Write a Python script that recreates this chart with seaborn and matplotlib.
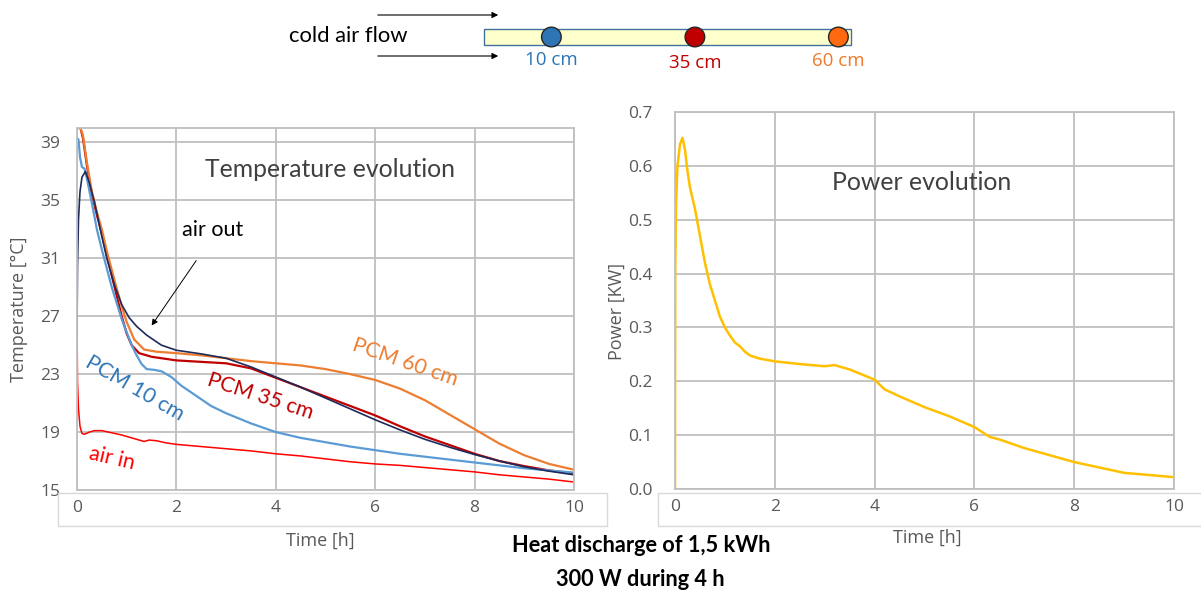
import matplotlib
matplotlib.use("Agg")
import matplotlib.pyplot as plt
import matplotlib.patches as patches
import seaborn as sns

# ---- data ----
t_pcm60 = [0, 0.07, 0.12, 0.2, 0.3, 0.4, 0.5, 0.6, 0.7, 0.8, 0.9, 1.0, 1.15, 1.35, 1.6, 2.0,
           2.5, 3.0, 3.5, 4.0, 4.5, 5.0, 5.5, 6.0, 6.5, 7.0, 7.5, 8.0, 8.5, 9.0, 9.5, 10.0]
T_pcm60 = [40.0, 40.0, 39.5, 37.6, 35.6, 34.2, 33.0, 31.5, 30.2, 28.9, 27.7, 26.6, 25.4, 24.7, 24.55, 24.45,
           24.3, 24.1, 23.9, 23.75, 23.6, 23.35, 23.0, 22.6, 22.0, 21.2, 20.2, 19.2, 18.2, 17.4, 16.8, 16.4]

t_pcm35 = [0, 0.07, 0.12, 0.2, 0.3, 0.4, 0.5, 0.6, 0.7, 0.8, 0.9, 1.0, 1.1, 1.25, 1.5, 2.0,
           2.5, 3.0, 3.5, 4.0, 4.5, 5.0, 5.5, 6.0, 6.5, 7.0, 7.5, 8.0, 8.5, 9.0, 9.5, 10.0]
T_pcm35 = [40.0, 40.0, 39.3, 37.4, 35.4, 34.0, 32.7, 31.2, 29.8, 28.4, 27.0, 25.8, 25.0, 24.45, 24.2, 23.95,
           23.85, 23.75, 23.4, 22.75, 22.1, 21.45, 20.8, 20.15, 19.4, 18.7, 18.1, 17.5, 17.0, 16.65, 16.35, 16.15]

t_out = [0, 0.01, 0.03, 0.06, 0.1, 0.17, 0.25, 0.35, 0.5, 0.6, 0.75, 0.9, 1.05, 1.2, 1.4, 1.7, 2.0,
         2.5, 3.0, 3.5, 4.0, 4.5, 5.0, 5.5, 6.0, 6.5, 7.0, 7.5, 8.0, 8.5, 9.0, 9.5, 10.0]
T_out = [25.7, 30.5, 33.7, 35.6, 36.6, 37.0, 36.2, 34.9, 32.5, 31.0, 29.2, 27.8, 26.9, 26.3, 25.7, 25.0, 24.65,
         24.4, 24.1, 23.5, 22.8, 22.1, 21.35, 20.6, 19.85, 19.15, 18.5, 17.95, 17.45, 17.0, 16.6, 16.3, 16.05]

t_pcm10 = [0, 0.03, 0.06, 0.1, 0.15, 0.2, 0.3, 0.4, 0.5, 0.6, 0.7, 0.8, 0.9, 1.0, 1.1, 1.2, 1.3, 1.4,
           1.55, 1.7, 1.9, 2.1, 2.4, 2.7, 3.0, 3.5, 4.0, 4.5, 5.0, 5.5, 6.0, 6.5, 7.0, 7.5, 8.0, 8.5,
           9.0, 9.5, 10.0]
T_pcm10 = [39.3, 39.2, 38.0, 37.3, 37.2, 36.5, 34.8, 33.0, 31.6, 30.3, 29.0, 27.9, 26.8, 25.9, 25.0, 24.3, 23.7, 23.35,
           23.3, 23.2, 22.8, 22.2, 21.5, 20.8, 20.3, 19.6, 19.0, 18.6, 18.3, 18.0, 17.75, 17.5, 17.3, 17.1, 16.9, 16.7,
           16.5, 16.35, 16.2]

t_in = [0, 0.01, 0.03, 0.06, 0.1, 0.15, 0.25, 0.35, 0.5, 0.7, 0.9, 1.1, 1.25, 1.35, 1.45, 1.6, 1.8, 2.0,
        2.5, 3.0, 3.5, 4.0, 4.5, 5.0, 5.5, 6.0, 6.5, 7.0, 7.5, 8.0, 8.5, 9.0, 9.5, 10.0]
T_in = [26.8, 22.5, 20.6, 19.4, 18.9, 18.85, 19.0, 19.1, 19.1, 18.95, 18.8, 18.6, 18.45, 18.35, 18.45, 18.4, 18.25, 18.15,
        18.0, 17.85, 17.7, 17.5, 17.35, 17.15, 16.95, 16.8, 16.7, 16.55, 16.4, 16.25, 16.05, 15.9, 15.75, 15.55]

t_power = [0, 0.005, 0.02, 0.05, 0.1, 0.15, 0.2, 0.25, 0.3, 0.4, 0.5, 0.6, 0.7, 0.8, 0.9, 1.0, 1.1, 1.2,
           1.3, 1.4, 1.5, 1.7, 2.0, 2.5, 3.0, 3.2, 3.5, 4.0, 4.2, 4.5, 5.0, 5.5, 6.0, 6.3, 6.5, 7.0,
           7.5, 8.0, 8.5, 9.0, 9.5, 10.0]
P_power = [0.0, 0.4, 0.53, 0.6, 0.64, 0.652, 0.63, 0.59, 0.56, 0.52, 0.47, 0.42, 0.38, 0.35, 0.32, 0.30, 0.285, 0.272,
           0.265, 0.255, 0.248, 0.242, 0.237, 0.232, 0.228, 0.23, 0.222, 0.203, 0.185, 0.172, 0.152, 0.135, 0.115, 0.097, 0.092, 0.076,
           0.063, 0.05, 0.04, 0.03, 0.026, 0.022]

sensor_cm = [10, 35, 60]
sensor_labels = ["10 cm", "35 cm", "60 cm"]
sensor_colors = ["#2E75B6", "#C00000", "#FF6A10"]
sensor_text_colors = ["#2E75B6", "#C00000", "#F07A2A"]

x_ticks = [0, 2, 4, 6, 8, 10]
temp_ticks = [15, 19, 23, 27, 31, 35, 39]
power_ticks = [0.0, 0.1, 0.2, 0.3, 0.4, 0.5, 0.6, 0.7]

# ---- style ----
sns.set_style("whitegrid")
plt.rcParams["font.family"] = ["Open Sans", "DejaVu Sans"]
GRID = "#BFBFBF"
TXT = "#595959"
LBL = "Lato"

fig = plt.figure(figsize=(12.01, 5.91), dpi=100)
ax1 = fig.add_axes([77 / 1201, 101 / 591, 497 / 1201, 362 / 591])
ax2 = fig.add_axes([675 / 1201, 102 / 591, 499 / 1201, 377 / 591])

series = [
    (t_pcm35, T_pcm35, "#C00000", 1.6),
    (t_pcm10, T_pcm10, "#5B9BD5", 1.6),
    (t_pcm60, T_pcm60, "#ED7D31", 1.6),
    (t_in, T_in, "#FF0000", 1.1),
    (t_out, T_out, "#1F2A5C", 1.2),
]
for tt, vv, col, lw in series:
    sns.lineplot(x=tt, y=vv, ax=ax1, color=col, linewidth=lw, sort=False)

sns.lineplot(x=t_power, y=P_power, ax=ax2, color="#FFC000", linewidth=1.8, sort=False)

for ax in (ax1, ax2):
    ax.set_xlim(0, 10)
    ax.set_xticks(x_ticks)
    ax.grid(True, color=GRID, linewidth=1.3)
    for sp in ax.spines.values():
        sp.set_color(GRID)
        sp.set_linewidth(1.3)
    ax.tick_params(axis="both", length=0, labelsize=12.5, labelcolor=TXT)
    ax.tick_params(axis="x", pad=7)
    ax.set_xlabel("Time [h]", fontsize=13, color=TXT)

ax1.set_ylim(15, 40)
ax1.set_yticks(temp_ticks)
ax1.tick_params(axis="y", pad=12)
ax1.set_ylabel("Temperature [°C]", fontsize=13, color=TXT)
ax1.yaxis.set_label_coords(-0.099, 0.5)
ax1.xaxis.set_label_coords(0.49, -0.116)

ax2.set_ylim(0, 0.7)
ax2.set_yticks(power_ticks)
ax2.set_yticklabels([f"{v:.1f}" for v in power_ticks])
ax2.tick_params(axis="y", pad=16)
ax2.set_ylabel("Power [KW]", fontsize=13, color=TXT)
ax2.yaxis.set_label_coords(-0.098, 0.47)
ax2.xaxis.set_label_coords(0.505, -0.106)

# titles and curve labels
ax1.text(5.09, 37.1, "Temperature evolution", ha="center", va="center", fontsize=17.8, color="#404040", family=LBL)
ax2.text(4.95, 0.57, "Power evolution", ha="center", va="center", fontsize=17.8, color="#404040", family=LBL)
ax1.text(1.17, 22.0, "PCM 10 cm", rotation=-30, ha="center", va="center", fontsize=15.3, color="#2E75B6", family=LBL)
ax1.text(3.68, 21.5, "PCM 35 cm", rotation=-18, ha="center", va="center", fontsize=15.3, color="#C00000", family=LBL)
ax1.text(6.6, 23.85, "PCM 60 cm", rotation=-19, ha="center", va="center", fontsize=15.3, color="#ED7D31", family=LBL)
ax1.text(0.7, 17.2, "air in", rotation=-13, ha="center", va="center", fontsize=15.3, color="#FF0000", family=LBL)
ax1.text(2.72, 32.95, "air out", ha="center", va="center", fontsize=15.5, color="black", family=LBL)
ax1.annotate("", xy=(1.47, 26.2), xytext=(2.43, 31.0),
             arrowprops=dict(arrowstyle="-|>", color="black", lw=0.7, mutation_scale=9))

# tick label boxes (Excel style)
for x0, w in ((58, 549), (658, 560)):
    fig.add_artist(patches.Rectangle((x0 / 1201, 65 / 591), w / 1201, 33 / 591,
                                     transform=fig.transFigure, fill=False,
                                     edgecolor="#D9D9D9", linewidth=1))

# bottom captions
fig.text(641 / 1201, 1 - 545 / 591, "Heat discharge of 1,5 kWh", ha="center", va="center",
         fontsize=15.7, fontweight="bold", color="black", family=LBL)
fig.text(640 / 1201, 1 - 579 / 591, "300 W during 4 h", ha="center", va="center",
         fontsize=15.7, fontweight="bold", color="black", family=LBL)

# top sketch of the tube with sensors
axd = fig.add_axes([0, 0, 1, 1])
axd.set_xlim(0, 1201)
axd.set_ylim(591, 0)
axd.axis("off")
axd.patch.set_alpha(0)
axd.add_patch(patches.Rectangle((484, 29), 367, 16, facecolor="#FFFFCC", edgecolor="#41719C", linewidth=1))
for yy in (15, 56):
    axd.annotate("", xy=(501, yy), xytext=(375, yy),
                 arrowprops=dict(arrowstyle="-|>", color="black", lw=0.8, mutation_scale=9))
axd.text(348, 36, "cold air flow", ha="center", va="center", fontsize=15.8, color="black", family=LBL)
sensor_px = [494 + 5.74 * c for c in sensor_cm]
label_dy = [60, 63, 61]
axd.scatter(sensor_px, [37] * 3, s=200, c=sensor_colors, edgecolors="#262626", linewidths=1, zorder=3)
for xp, lab, col, dy in zip(sensor_px, sensor_labels, sensor_text_colors, label_dy):
    axd.text(xp, dy, lab, ha="center", va="center", fontsize=13.5, color=col)

fig.savefig("out.png", dpi=100)
